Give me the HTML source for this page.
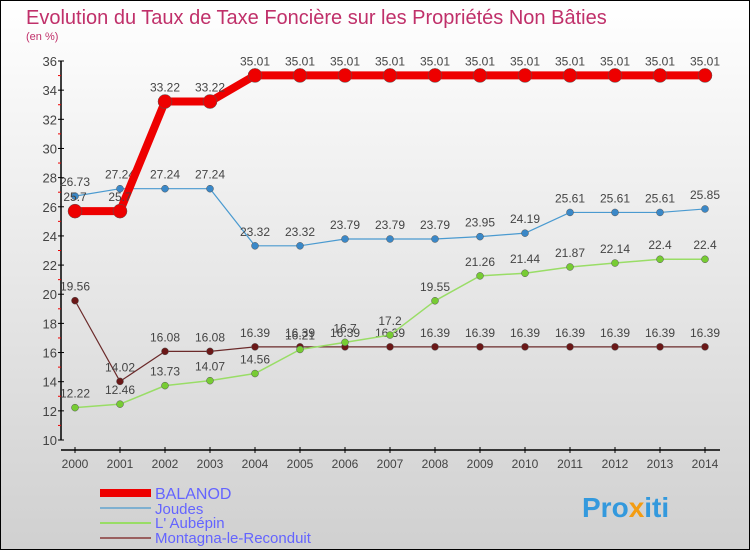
<!DOCTYPE html>
<html><head><meta charset="utf-8"><style>
body{margin:0}
#c{width:750px;height:550px;position:relative;font-family:"Liberation Sans",sans-serif}
</style></head><body>
<div id="c">
<svg id="s" width="750" height="550" xmlns="http://www.w3.org/2000/svg">
<defs><linearGradient id="bg" x1="0" y1="0" x2="0" y2="1"><stop offset="0" stop-color="#ffffff"/><stop offset="1" stop-color="#d0d0d0"/></linearGradient></defs>
<rect x="0.5" y="0.5" width="749" height="549" fill="url(#bg)" stroke="#000"/>
<text x="26" y="24" font-size="20" fill="#c0306a">Evolution du Taux de Taxe Foncière sur les Propriétés Non Bâties</text>
<text x="26" y="40" font-size="11" fill="#c0306a">(en %)</text>
<g id="axes"></g><g id="series"></g>
<g>
<rect x="100" y="489" width="51" height="8" fill="#e00"/>
<text x="155" y="499" font-size="16" fill="#6464ff">BALANOD</text>
<line x1="100" y1="508" x2="151" y2="508" stroke="#7fb0d0" stroke-width="2"/>
<text x="155" y="514" font-size="15" fill="#6464ff">Joudes</text>
<line x1="100" y1="523" x2="151" y2="523" stroke="#99dd66" stroke-width="2"/>
<text x="155" y="528" font-size="15" fill="#6464ff">L' Aubépin</text>
<line x1="100" y1="538" x2="151" y2="538" stroke="#9a6060" stroke-width="2"/>
<text x="155" y="543" font-size="15" fill="#6464ff">Montagna-le-Reconduit</text>
</g>
<text x="582" y="517" font-size="28" font-weight="bold" fill="#3399dd">Pro<tspan fill="#f39c12">x</tspan>iti</text>
</svg></div>
<script>
const years=["2000","2001","2002","2003","2004","2005","2006","2007","2008","2009","2010","2011","2012","2013","2014"];
const yTicks=[10,12,14,16,18,20,22,24,26,28,30,32,34,36];
const balanod=[25.7,25.7,33.22,33.22,35.01,35.01,35.01,35.01,35.01,35.01,35.01,35.01,35.01,35.01,35.01];
const joudes=[26.73,27.24,27.24,27.24,23.32,23.32,23.79,23.79,23.79,23.95,24.19,25.61,25.61,25.61,25.85];
const aubepin=[12.22,12.46,13.73,14.07,14.56,16.21,16.7,17.2,19.55,21.26,21.44,21.87,22.14,22.4,22.4];
const montagna=[19.56,14.02,16.08,16.08,16.39,16.39,16.39,16.39,16.39,16.39,16.39,16.39,16.39,16.39,16.39];
const NS="http://www.w3.org/2000/svg";
const X=i=>75+45*i;
const Y=v=>440-(v-10)*(379/26);
function mk(t,a,p){const e=document.createElementNS(NS,t);for(const k in a)e.setAttribute(k,a[k]);p.appendChild(e);return e;}
const ax=document.getElementById('axes');
const yaxis=mk('line',{x1:61,y1:Y(36),x2:61,y2:Y(10),stroke:'#000','stroke-width':1.5},ax);


const xaxis=mk('line',{x1:61,y1:450,x2:720,y2:450,stroke:'#000','stroke-width':1.5},ax);


yTicks.forEach(v=>{
 mk('line',{x1:58,y1:Y(v),x2:64,y2:Y(v),stroke:'#000'},ax);
 mk('line',{x1:58,y1:Y(v+1),x2:61,y2:Y(v+1),stroke:v<36?'#e00':'none'},ax);
 const t=mk('text',{x:57,y:Y(v)+5,'font-size':13,'text-anchor':'end',fill:'#444'},ax);
 t.textContent=v;
 
 
});
years.forEach((y,i)=>{
 mk('line',{x1:X(i),y1:447,x2:X(i),y2:453,stroke:'#000'},ax);
 const t=mk('text',{x:X(i),y:468,'font-size':12,'text-anchor':'middle',fill:'#444'},ax);
 t.textContent=y;
 
 
});
const sg=document.getElementById('series');
function series(data,name,color,w,r,fill){
 const g=mk('g',{},sg);
 
 
 const l=mk('polyline',{points:data.map((v,i)=>X(i)+','+Y(v)).join(' '),fill:'none',stroke:color,'stroke-width':w,'stroke-linejoin':'round'},g);
 
 
 data.forEach((v,i)=>{
  const c=mk('circle',{cx:X(i),cy:Y(v),r:r,fill:fill,stroke:'#555','stroke-width':0.5},g);
  
  
  const t=mk('text',{x:X(i),y:Y(v)-10,'font-size':12,'text-anchor':'middle',fill:'#444'},g);
  t.textContent=String(v);
  
  
 });
}
series(montagna,'montagna','#6b2a2a',1.2,3.5,'#6b1818');
series(aubepin,'aubepin','#99dd66',1.5,3.5,'#77cc33');
series(joudes,'joudes','#4a9ad0',1.2,3.5,'#3a88c8');
series(balanod,'balanod','#ee0000',8,7,'#ee0000');
</script>
</body></html>
